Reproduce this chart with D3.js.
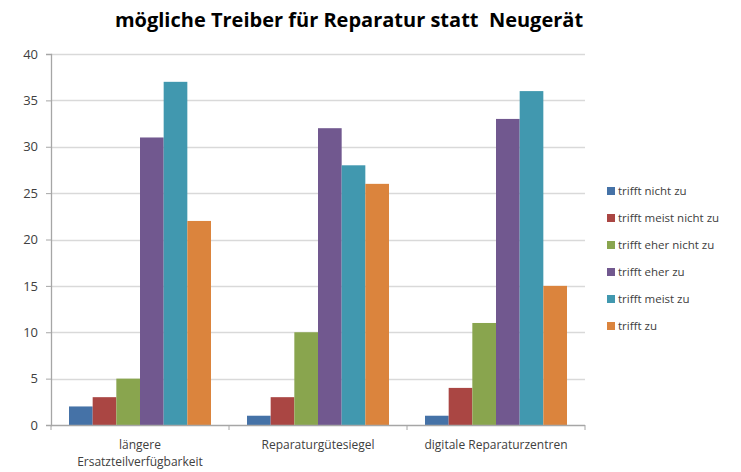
<!DOCTYPE html>
<html>
<head>
<meta charset="utf-8">
<script src="https://cdn.jsdelivr.net/npm/d3@7"></script>
<style>
  body { margin: 0; background: #fff; }
  text { font-family: "Open Sans", "DejaVu Sans", sans-serif; }
</style>
</head>
<body>
<div id="chart"></div>
<script>
// data
var categories = ["längere Ersatzteilverfügbarkeit", "Reparaturgütesiegel", "digitale Reparaturzentren"];
var seriesNames = ["trifft nicht zu", "trifft meist nicht zu", "trifft eher nicht zu", "trifft eher zu", "trifft meist zu", "trifft zu"];
var trifftNicht      = [2, 1, 1];
var trifftMeistNicht = [3, 3, 4];
var trifftEherNicht  = [5, 10, 11];
var trifftEher       = [31, 32, 33];
var trifftMeist      = [37, 28, 36];
var trifftZu         = [22, 26, 15];
var yTicks = [0, 5, 10, 15, 20, 25, 30, 35, 40];

var seriesValues = [trifftNicht, trifftMeistNicht, trifftEherNicht, trifftEher, trifftMeist, trifftZu];
var colors = ["#4572A7", "#AA4643", "#89A54E", "#71588F", "#4198AF", "#DB843D"];

function main(){
    var svg = d3.select("#chart").append("svg")
        .attr("width", 741)
        .attr("height", 472);

    var left = 51, right = 585, top = 54, bottom = 425;

    var x0 = d3.scaleBand().domain(d3.range(categories.length)).range([left, right]);
    var x1 = d3.scaleBand().domain(d3.range(seriesNames.length))
        .range([18, x0.bandwidth() - 18]);
    var y = d3.scaleLinear().domain([0, 40]).range([bottom, top]);

    // title
    svg.append("text")
        .attr("x", 349)
        .attr("y", 27)
        .attr("text-anchor", "middle")
        .attr("font-size", "20px")
        .attr("font-weight", "bold")
        .attr("fill", "#000")
        .text("mögliche Treiber für Reparatur statt  Neugerät")
        .style("white-space", "pre");

    // gridlines
    svg.append("g")
        .selectAll("line")
        .data(yTicks.slice(1))
        .enter().append("line")
        .attr("x1", left).attr("x2", right)
        .attr("y1", function(d){ return Math.round(y(d)) + 0.5; })
        .attr("y2", function(d){ return Math.round(y(d)) + 0.5; })
        .attr("stroke", "#d9d9d9")
        .attr("stroke-width", 1.3);

    // bars
    var groups = svg.append("g").selectAll("g")
        .data(seriesValues)
        .enter().append("g")
        .attr("fill", function(d, i){ return colors[i]; });

    groups.each(function(vals, si){
        d3.select(this).selectAll("rect")
            .data(vals)
            .enter().append("rect")
            .attr("x", function(d, ci){ return x0(ci) + x1(si); })
            .attr("width", x1.bandwidth())
            .attr("y", function(d){ return y(d); })
            .attr("height", function(d){ return y(0) - y(d); });
    });

    // y axis
    var yAxis = svg.append("g")
        .attr("transform", "translate(" + left + ",0)")
        .call(d3.axisLeft(y).tickValues(yTicks).tickSize(5).tickPadding(8));
    yAxis.select(".domain").attr("stroke", "#a6a6a6").attr("stroke-width", 1.3);
    yAxis.selectAll(".tick line").attr("stroke", "#a6a6a6");
    yAxis.selectAll(".tick text")
        .attr("font-size", "13px")
        .attr("fill", "#404040")
        .style("font-family", "'Open Sans', sans-serif");

    // x axis (category boundaries)
    var xBase = svg.append("g");
    xBase.append("line")
        .attr("x1", left).attr("x2", right)
        .attr("y1", bottom + 0.5).attr("y2", bottom + 0.5)
        .attr("stroke", "#a6a6a6").attr("stroke-width", 1.3);
    xBase.selectAll(".sep")
        .data(d3.range(categories.length + 1))
        .enter().append("line")
        .attr("x1", function(i){ return left + i * x0.bandwidth(); })
        .attr("x2", function(i){ return left + i * x0.bandwidth(); })
        .attr("y1", bottom).attr("y2", bottom + 5)
        .attr("stroke", "#a6a6a6");

    // category labels
    var labelLines = [["längere", "Ersatzteilverfügbarkeit"], ["Reparaturgütesiegel"], ["digitale Reparaturzentren"]];
    labelLines.forEach(function(lines, ci){
        var t = svg.append("text")
            .attr("x", x0(ci) + x0.bandwidth() / 2)
            .attr("y", 449)
            .attr("text-anchor", "middle")
            .attr("font-size", "12px")
            .attr("fill", "#404040");
        lines.forEach(function(l, li){
            t.append("tspan")
                .attr("x", x0(ci) + x0.bandwidth() / 2)
                .attr("dy", li === 0 ? 0 : 17)
                .text(l);
        });
    });

    // legend
    var legend = svg.append("g").selectAll("g")
        .data(seriesNames)
        .enter().append("g")
        .attr("transform", function(d, i){ return "translate(607," + (191 + i * 27) + ")"; });
    legend.append("rect")
        .attr("x", 0).attr("y", -4)
        .attr("width", 8).attr("height", 8)
        .attr("fill", function(d, i){ return colors[i]; });
    legend.append("text")
        .attr("x", 11)
        .attr("y", 4)
        .attr("font-size", "11.5px")
        .attr("fill", "#404040")
        .text(function(d){ return d; });
}
main();
</script>
</body>
</html>
